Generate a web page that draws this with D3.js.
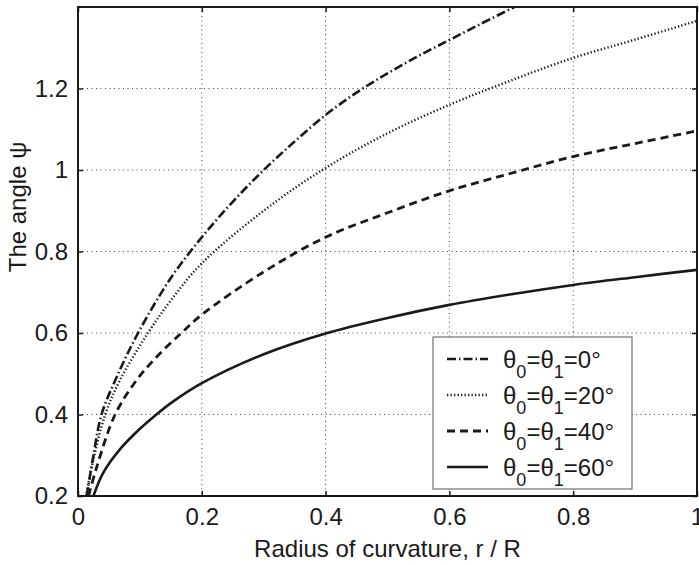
<!DOCTYPE html>
<html>
<head>
<meta charset="utf-8">
<script src="https://cdn.jsdelivr.net/npm/d3@7"></script>
<style>
  body { margin: 0; background: #fff; }
  text { font-family: "Liberation Sans", Arial, sans-serif; fill: #1a1a1a; }
</style>
</head>
<body>
<svg id="chart" width="699" height="565"></svg>
<script>

// theta0 = theta1 = 0 deg (dash-dot)
var r0 = [0.014, 0.025, 0.038, 0.062, 0.097, 0.15, 0.2, 0.25, 0.3, 0.35, 0.4, 0.45, 0.5, 0.55, 0.6, 0.65, 0.705];
var psi0 = [0.2, 0.3, 0.4, 0.49, 0.6, 0.735, 0.835, 0.922, 1.0, 1.07, 1.135, 1.19, 1.237, 1.28, 1.319, 1.358, 1.4];
// 20 deg (dotted)
var r1 = [0.013, 0.025, 0.044, 0.068, 0.113, 0.15, 0.2, 0.3, 0.4, 0.5, 0.6, 0.7, 0.8, 0.9, 1.0];
var psi1 = [0.2, 0.29, 0.4, 0.485, 0.6, 0.68, 0.771, 0.9, 1.005, 1.09, 1.16, 1.22, 1.275, 1.32, 1.366];
// 40 deg (dashed)
var r2 = [0.017, 0.03, 0.06, 0.095, 0.13, 0.167, 0.2, 0.3, 0.4, 0.5, 0.6, 0.7, 0.8, 0.9, 1.0];
var psi2 = [0.2, 0.27, 0.4, 0.485, 0.546, 0.6, 0.645, 0.75, 0.835, 0.895, 0.949, 0.992, 1.033, 1.065, 1.096];
// 60 deg (solid)
var r3 = [0.025, 0.04, 0.068, 0.1, 0.125, 0.15, 0.2, 0.3, 0.4, 0.5, 0.6, 0.7, 0.8, 0.9, 1.0];
var psi3 = [0.2, 0.255, 0.315, 0.365, 0.398, 0.428, 0.477, 0.548, 0.599, 0.637, 0.669, 0.695, 0.718, 0.737, 0.755];

var legendAngles = ["0", "20", "40", "60"];
var xTicks = [0, 0.2, 0.4, 0.6, 0.8, 1];
var yTicks = [0.2, 0.4, 0.6, 0.8, 1, 1.2];

var margin = {top: 7, right: 2, bottom: 69, left: 78};
var width = 699 - margin.left - margin.right;
var height = 565 - margin.top - margin.bottom;

var svg = d3.select("#chart");
var g = svg.append("g").attr("transform", "translate(" + margin.left + "," + margin.top + ")");

var x = d3.scaleLinear().domain([0, 1]).range([0, width]);
var y = d3.scaleLinear().domain([0.2, 1.4]).range([height, 0]);

var fmt = d => d3.format("~g")(d);

// grid
g.append("g").selectAll("line").data(xTicks.slice(1, -1)).enter().append("line")
    .attr("x1", d => x(d)).attr("x2", d => x(d))
    .attr("y1", 0).attr("y2", height)
    .attr("stroke", "#444").attr("stroke-width", 1).attr("stroke-dasharray", "1 3.5");
g.append("g").selectAll("line").data(yTicks.slice(1)).enter().append("line")
    .attr("x1", 0).attr("x2", width)
    .attr("y1", d => y(d)).attr("y2", d => y(d))
    .attr("stroke", "#444").attr("stroke-width", 1).attr("stroke-dasharray", "1 3.5");

g.append("clipPath").attr("id", "clip").append("rect")
    .attr("width", width).attr("height", height);

var line = d3.line()
    .x(d => x(d[0]))
    .y(d => y(d[1]))
    .curve(d3.curveCatmullRom.alpha(0.5));

var series = [
    {r: r0, psi: psi0, dash: "9 3 1.5 3", w: 2.6},
    {r: r1, psi: psi1, dash: "1.3 2.2", w: 2.4},
    {r: r2, psi: psi2, dash: "8 5", w: 2.8},
    {r: r3, psi: psi3, dash: null, w: 2.6}
];

g.append("g").attr("clip-path", "url(#clip)")
    .selectAll("path").data(series).enter().append("path")
    .attr("d", s => line(d3.zip(s.r, s.psi)))
    .attr("fill", "none")
    .attr("stroke", "#1a1a1a")
    .attr("stroke-width", s => s.w)
    .attr("stroke-dasharray", s => s.dash);

// axes (ticks inward on all sides)
var tickLen = 5;
g.append("g").attr("transform", "translate(0," + height + ")")
    .call(d3.axisBottom(x).tickValues(xTicks).tickFormat(fmt).tickSizeInner(-tickLen).tickSizeOuter(0).tickPadding(12))
    .call(a => a.select(".domain").remove())
    .call(a => a.selectAll("text").attr("font-size", 24));
g.append("g")
    .call(d3.axisTop(x).tickValues(xTicks).tickFormat("").tickSizeInner(-tickLen).tickSizeOuter(0))
    .call(a => a.select(".domain").remove());
g.append("g")
    .call(d3.axisLeft(y).tickValues(yTicks).tickFormat(fmt).tickSizeInner(-tickLen).tickSizeOuter(0).tickPadding(10))
    .call(a => a.select(".domain").remove())
    .call(a => a.selectAll("text").attr("font-size", 24));
g.append("g").attr("transform", "translate(" + width + ",0)")
    .call(d3.axisRight(y).tickValues(yTicks).tickFormat("").tickSizeInner(-tickLen).tickSizeOuter(0))
    .call(a => a.select(".domain").remove());
g.selectAll(".tick line").attr("stroke", "#1a1a1a").attr("stroke-width", 1.5);

g.append("rect").attr("width", width).attr("height", height)
    .attr("fill", "none").attr("stroke", "#1a1a1a").attr("stroke-width", 2);

// axis labels
g.append("text")
    .attr("x", width / 2).attr("y", height + 61)
    .attr("text-anchor", "middle").attr("font-size", 24)
    .text("Radius of curvature, r / R");
svg.append("text")
    .attr("transform", "translate(26,207) rotate(-90)")
    .attr("text-anchor", "middle").attr("font-size", 24)
    .text("The angle \u03c8");

// legend
var lg = g.append("g").attr("transform", "translate(" + (433 - margin.left) + "," + (337 - margin.top) + ")");
lg.append("rect").attr("width", 199).attr("height", 152)
    .attr("fill", "#fff").attr("stroke", "#555").attr("stroke-width", 1);
var rows = lg.selectAll("g.row").data(series).enter().append("g")
    .attr("transform", (d, i) => "translate(0," + (22 + i * 36) + ")");
rows.append("line")
    .attr("x1", 14).attr("x2", 55).attr("y1", 0).attr("y2", 0)
    .attr("stroke", "#1a1a1a")
    .attr("stroke-width", s => s.w)
    .attr("stroke-dasharray", s => s.dash);
var txt = rows.append("text").attr("x", 70).attr("y", 9).attr("font-size", 24);
txt.append("tspan").text("\u03b8");
txt.append("tspan").attr("font-size", 18).attr("dy", 10).text("0");
txt.append("tspan").attr("dy", -10).text("=\u03b8");
txt.append("tspan").attr("font-size", 18).attr("dy", 10).text("1");
txt.append("tspan").attr("dy", -10).text((d, i) => "=" + legendAngles[i] + "\u00b0");

</script>
</body>
</html>
